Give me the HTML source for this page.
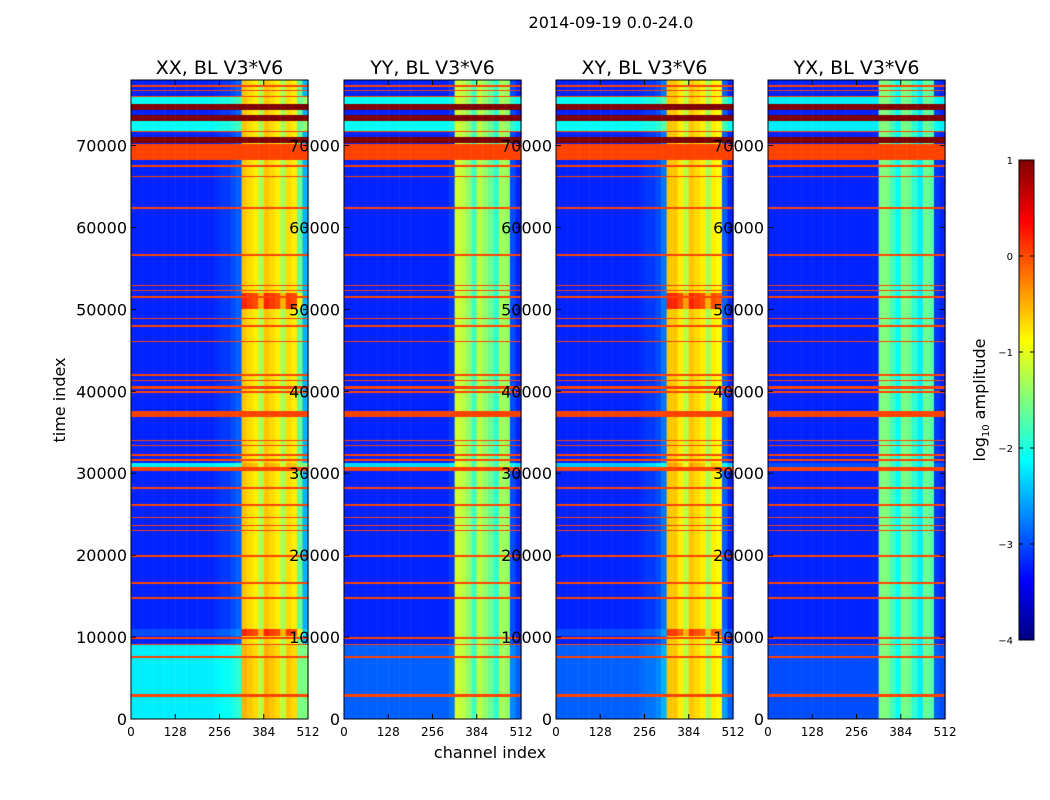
<!DOCTYPE html>
<html><head><meta charset="utf-8"><style>
body{margin:0;background:#fff;width:1050px;height:800px;overflow:hidden;position:relative;font-family:"DejaVu Sans","Liberation Sans",sans-serif}
canvas{position:absolute;left:0;top:0}
svg{position:absolute;left:0;top:0}
</style></head><body>
<canvas id="c" width="1050" height="800"></canvas>
<svg id="s" width="1050" height="800"></svg>
<script>
// ---- data ----
const panelTitles = ["XX, BL V3*V6","YY, BL V3*V6","XY, BL V3*V6","YX, BL V3*V6"];
const yTicks = [0,10000,20000,30000,40000,50000,60000,70000];
const xTicks = [0,128,256,384,512];
const cbTicks = [1,0,-1,-2,-3,-4];
// channel profile per panel: 32 bins of 16 channels, log10 amplitude
const profXX = [-3.2,-3.2,-3.2,-3.2,-3.2,-3.2,-3.2,-3.2,-3.2,-3.2,-3.2,-3.2,-3.2,-3.2,-3.2,-3.15,-3.1,-3.1,-3.0,-2.9,-0.6,-0.7,-0.8,-1.3,-0.6,-0.7,-0.8,-1.3,-0.7,-0.8,-1.6,-2.5];
const profYY = [-3.2,-3.2,-3.2,-3.2,-3.2,-3.2,-3.2,-3.2,-3.2,-3.2,-3.2,-3.2,-3.2,-3.2,-3.2,-3.2,-3.2,-3.2,-3.2,-3.1,-1.1,-1.2,-1.4,-1.8,-1.2,-1.4,-1.6,-1.9,-1.3,-1.4,-3.0,-3.2];
const profXY = [-3.2,-3.2,-3.2,-3.2,-3.2,-3.2,-3.2,-3.2,-3.2,-3.2,-3.2,-3.2,-3.2,-3.2,-3.2,-3.15,-3.1,-3.1,-3.0,-2.8,-0.6,-0.6,-0.8,-1.2,-0.6,-0.7,-0.8,-1.3,-0.8,-0.9,-2.9,-3.2];
const profYX = [-3.2,-3.2,-3.2,-3.2,-3.2,-3.2,-3.2,-3.2,-3.2,-3.2,-3.2,-3.2,-3.2,-3.2,-3.2,-3.2,-3.2,-3.2,-3.2,-3.2,-1.5,-1.5,-1.8,-2.1,-1.5,-1.6,-1.9,-2.2,-1.6,-1.7,-3.1,-3.2];
// flagged time ranges
const flagStart = [2700,7500,9000,9800,14700,16500,19800,22900,23500,24500,26000,28100,30300,31500,32100,33300,33900,36900,39800,40300,41200,41900,46000,47900,48800,51400,52200,52800,56500,62300,66100,67400,68200,70300,71600,73000,74300,75900,76600,77200];
const flagEnd   = [3100,7700,9200,10000,14850,16700,20000,23100,23700,24700,26200,28300,30800,31700,32300,33500,34100,37600,40000,40700,41400,42100,46200,48100,49000,51600,52400,53000,56700,62500,66300,67600,70200,71000,71800,73700,75100,76100,76800,77400];
const flagVal   = [0,0,0,0,0,0,0,0,0,0,0,0,0,0,0,0,0,0,0,0,0,0,0,0,0,0,0,0,0,0,0,0,0,1,0,1,1,0,0,0];
// offsets per time segment: background channels and band channels separately
const segStart = [0,10100,30700,50000,71800,72400,75100];
const segEnd   = [9000,11000,31300,52000,72400,73000,75900];
const bgXX = [1.0,0.2,1.0,0,1.1,1.1,1.1];
const bgYY = [0.3,0,0.9,0,1.1,1.1,1.1];
const bgXY = [0.3,0.2,0.8,0,1.1,1.1,1.1];
const bgYX = [0.2,0,0.2,0,1.0,1.0,1.0];
const bandXX = [0.1,0.8,0.2,0.8,0,0,0];
const bandYY = [0,0,0.1,0,0,0,0];
const bandXY = [0,0.7,0.2,0.8,0,0,0];
const bandYX = [0,0,0,0,0,0,0];
const profiles = [profXX,profYY,profXY,profYX];
const bgSegs = [bgXX,bgYY,bgXY,bgYX];
const bandSegs = [bandXX,bandYY,bandXY,bandYX];
// ---- layout ----
const panelX = [131,344,556,768], pw = 177, yTop=80, yBot=719, tMax=78000;
const vmin=-4,vmax=1;
function yOf(t){return yBot-(t/tMax)*(yBot-yTop);}
function xOf(p,ch){return panelX[p]+ch/512*pw;}
function jet(f){f=Math.max(0,Math.min(1,f));
 const r=Math.max(0,Math.min(1,1.5-Math.abs(4*f-3))),g=Math.max(0,Math.min(1,1.5-Math.abs(4*f-2))),b=Math.max(0,Math.min(1,1.5-Math.abs(4*f-1)));
 return `rgb(${r*255|0},${g*255|0},${b*255|0})`;}
function colOf(v){return jet((v-vmin)/(vmax-vmin));}
const ctx=document.getElementById('c').getContext('2d');
for(let p=0;p<4;p++){
 for(let py=yTop;py<yBot;py++){
  const t=(yBot-py-0.5)/(yBot-yTop)*tMax;
  let fl=null;
  for(let i=0;i<flagStart.length;i++) if(t>=flagStart[i]&&t<=flagEnd[i]) fl=flagVal[i];
  let bo=0,ba=0;
  for(let i=0;i<segStart.length;i++) if(t>=segStart[i]&&t<=segEnd[i]){bo=bgSegs[p][i];ba=bandSegs[p][i];}
  for(let b=0;b<32;b++){
   const inBand=profiles[p][b]>-2.5;
   const v = fl!==null ? (fl===0?0.05:fl) : profiles[p][b]+(inBand?ba:bo);
   ctx.fillStyle=colOf(Math.min(v,1));
   const x0=xOf(p,b*16),x1=xOf(p,(b+1)*16);
   ctx.fillRect(x0,py,x1-x0+0.5,1);
  }
 }
}
// colorbar
for(let y=160;y<640;y++){ctx.fillStyle=jet(1-(y-160)/480);ctx.fillRect(1019,y,15,1);}
// ---- overlay ----
const svgEl=document.getElementById('s');const NS='http://www.w3.org/2000/svg';
function mk(tag,a,txt){const n=document.createElementNS(NS,tag);for(const k in a)n.setAttribute(k,a[k]);if(txt!==undefined)n.textContent=txt;svgEl.appendChild(n);return n;}
let el=mk('text',{x:611,y:28,'font-size':16,'text-anchor':'middle'},'2014-09-19 0.0-24.0');


for(let p=0;p<4;p++){
 el=mk('rect',{x:panelX[p],y:yTop,width:pw,height:yBot-yTop,fill:'none',stroke:'#000','stroke-width':1});
 
 
 el=mk('text',{x:panelX[p]+pw/2,y:74,'font-size':19,'text-anchor':'middle'},panelTitles[p]);
 
 
 yTicks.forEach(t=>{const y=yOf(t);
  mk('line',{x1:panelX[p],x2:panelX[p]+5,y1:y,y2:y,stroke:'#000'});
  mk('line',{x1:panelX[p]+pw,x2:panelX[p]+pw-5,y1:y,y2:y,stroke:'#000'});
  el=mk('text',{x:panelX[p]-4,y:y+6,'font-size':16,'text-anchor':'end'},t);
  
  
 });
 xTicks.forEach(c=>{const x=xOf(p,c);
  mk('line',{x1:x,x2:x,y1:yBot,y2:yBot-5,stroke:'#000'});
  mk('line',{x1:x,x2:x,y1:yTop,y2:yTop+5,stroke:'#000'});
  el=mk('text',{x:x,y:736,'font-size':12,'text-anchor':'middle'},c);
  
  
 });
}
el=mk('text',{x:490,y:758,'font-size':16,'text-anchor':'middle'},'channel index');


el=mk('text',{x:0,y:0,'font-size':16,'text-anchor':'middle',transform:'translate(65,400) rotate(-90)'},'time index');


el=mk('rect',{x:1019,y:160,width:15,height:480,fill:'none',stroke:'#000'});


cbTicks.forEach(v=>{const y=160+(1-v)/5*480;
 mk('line',{x1:1019,x2:1023,y1:y,y2:y,stroke:'#000'});
 mk('line',{x1:1030,x2:1034,y1:y,y2:y,stroke:'#000'});
 el=mk('text',{x:1013,y:y+4,'font-size':10,'text-anchor':'end'},(v<0?'\u2212':'')+Math.abs(v));
 
 
});
el=mk('text',{x:0,y:0,'font-size':16,'text-anchor':'middle',transform:'translate(985,400) rotate(-90)'});


el.innerHTML='log<tspan font-size="10" dy="4">10</tspan><tspan dy="-4"> amplitude</tspan>';
</script>
</body></html>
